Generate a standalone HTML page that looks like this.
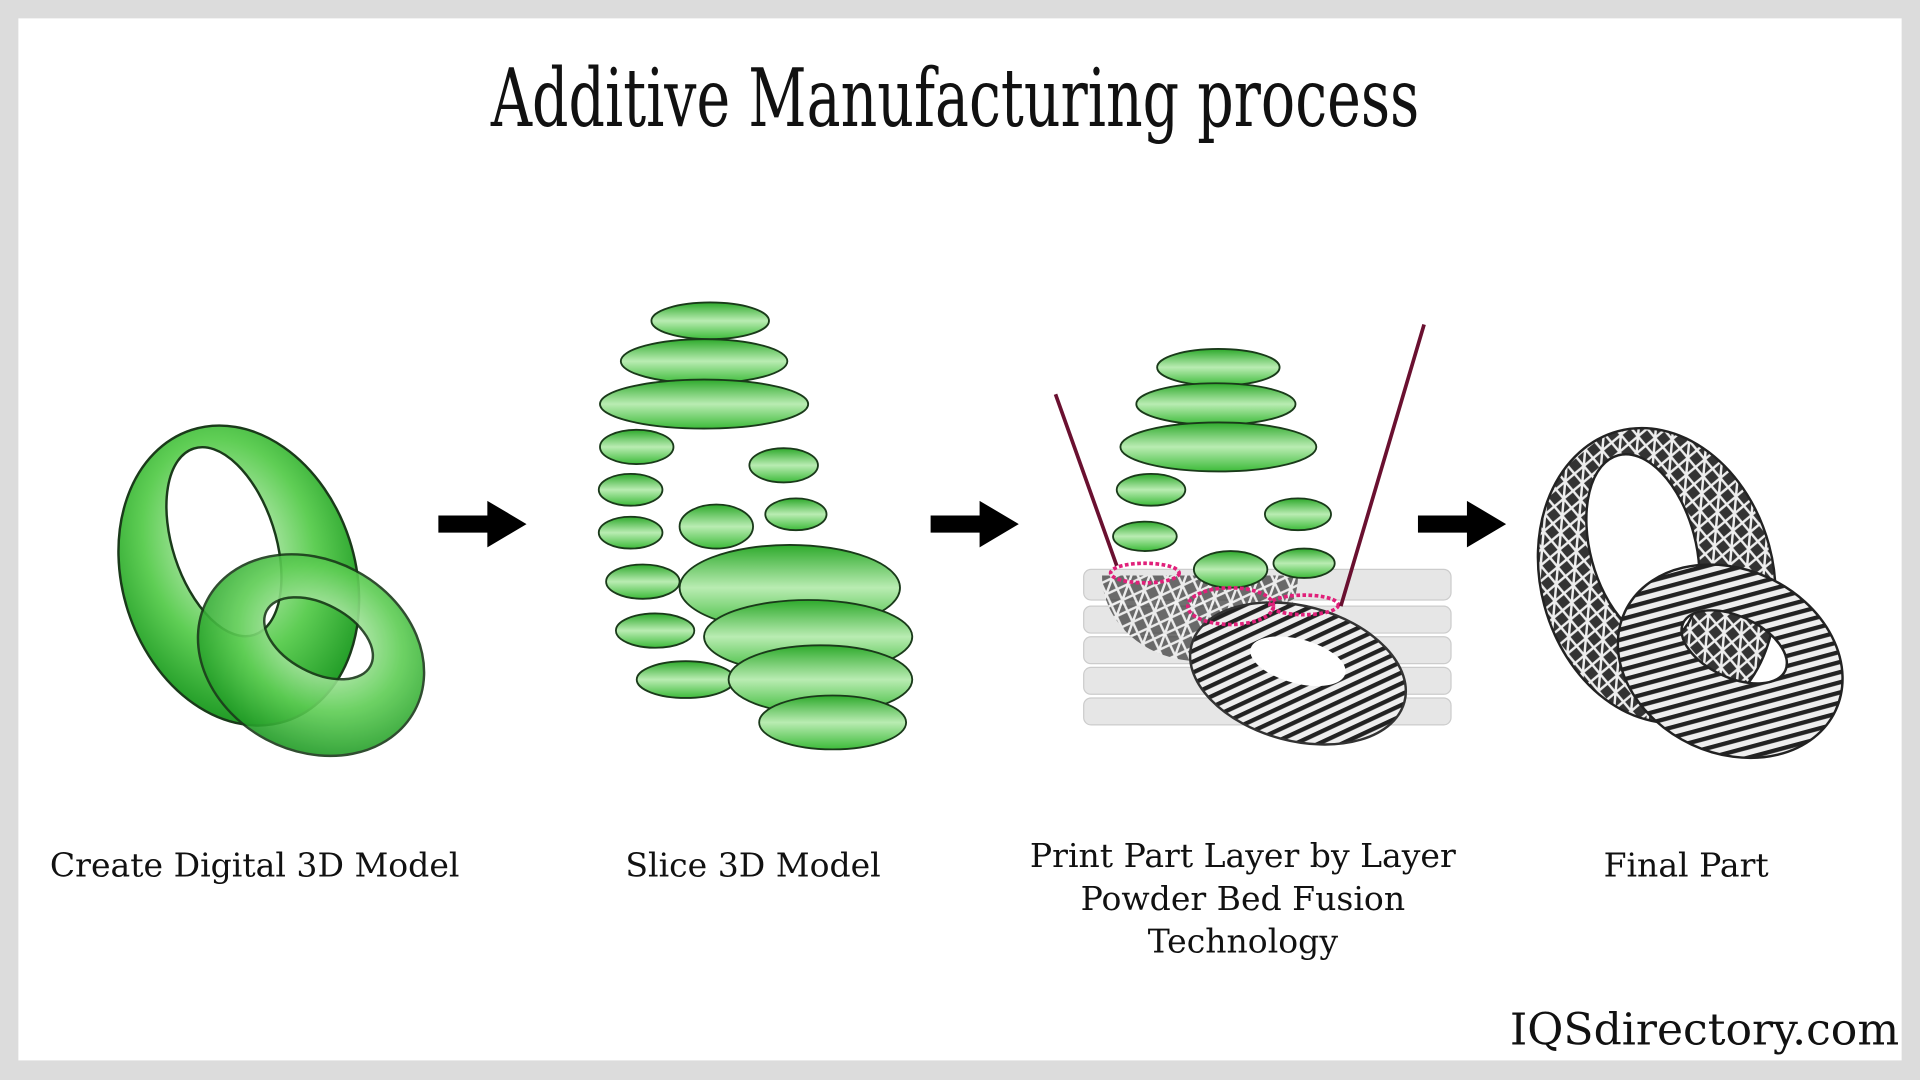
<!DOCTYPE html>
<html><head><meta charset="utf-8"><style>
html,body{margin:0;padding:0;background:#ddd;}
svg{display:block;}
</style></head><body>
<svg width="1920" height="1080" viewBox="0 0 1568 882" xmlns="http://www.w3.org/2000/svg">
<defs>
<radialGradient id="g" cx="50%" cy="40%" r="60%">
<stop offset="0" stop-color="#e8f8e4"/><stop offset="0.6" stop-color="#5fce55"/><stop offset="1" stop-color="#1f9a25"/></radialGradient>
<linearGradient id="gs" x1="0" y1="0" x2="0" y2="1">
<stop offset="0" stop-color="#2eaa2c"/><stop offset="0.5" stop-color="#b9ecb2"/><stop offset="1" stop-color="#3dbb3a"/></linearGradient>
<pattern id="str" width="8" height="8" patternUnits="userSpaceOnUse" patternTransform="rotate(50)">
<rect width="8" height="8" fill="#eee"/><rect width="3.5" height="8" fill="#222"/></pattern>
<pattern id="mesh" width="14" height="14" patternUnits="userSpaceOnUse" patternTransform="rotate(20)">
<rect width="14" height="14" fill="#333"/><path d="M0 0L14 14M14 0L0 14M7 0V14" stroke="#eee" stroke-width="2"/></pattern>
</defs>
<rect x="0" y="0" width="1568" height="882" fill="#dcdcdc"/>
<rect x="15" y="15" width="1538" height="851" fill="#fff"/>
<text x="780" y="103" text-anchor="middle" font-family="'DejaVu Serif','Liberation Serif',serif" font-size="66" transform="translate(780 0) scale(0.705 1) translate(-780 0)" fill="#111">Additive Manufacturing process</text>

<!-- Fig 1 -->
<g stroke="#1a3a1a" stroke-width="2" fill-rule="evenodd">
<path d="M100 470 a95 125 0 1 0 190 0 a95 125 0 1 0 -190 0Z M150 440 a42 80 0 1 0 84 0 a42 80 0 1 0 -84 0Z" fill="url(#g)" transform="rotate(-18 195 470)"/>
<path d="M158 535 a96 78 0 1 0 192 0 a96 78 0 1 0 -192 0Z M205 520 a48 28 0 1 0 96 0 a48 28 0 1 0 -96 0Z" fill="url(#g)" opacity="0.9" transform="rotate(28 254 535)"/>
</g>

<!-- Arrows -->
<g fill="#000">
<path d="M358 421h40v-12l32 19-32 19v-12h-40z"/>
<path d="M760 421h40v-12l32 19-32 19v-12h-40z"/>
<path d="M1158 421h40v-12l32 19-32 19v-12h-40z"/>
</g>

<!-- Fig 2 slices -->
<g stroke="#1a3a1a" stroke-width="1.5" fill="url(#gs)">
<ellipse cx="580" cy="262" rx="48" ry="15"/>
<ellipse cx="575" cy="295" rx="68" ry="18"/>
<ellipse cx="575" cy="330" rx="85" ry="20"/>
<ellipse cx="520" cy="365" rx="30" ry="14"/>
<ellipse cx="640" cy="380" rx="28" ry="14"/>
<ellipse cx="515" cy="400" rx="26" ry="13"/>
<ellipse cx="650" cy="420" rx="25" ry="13"/>
<ellipse cx="515" cy="435" rx="26" ry="13"/>
<ellipse cx="650" cy="460" rx="25" ry="13"/>
<ellipse cx="525" cy="475" rx="30" ry="14"/>
<ellipse cx="535" cy="515" rx="32" ry="14"/>
<ellipse cx="560" cy="555" rx="40" ry="15"/>
<ellipse cx="645" cy="480" rx="90" ry="35"/>
<ellipse cx="660" cy="520" rx="85" ry="30"/>
<ellipse cx="670" cy="555" rx="75" ry="28"/>
<ellipse cx="680" cy="590" rx="60" ry="22"/>
<ellipse cx="585" cy="430" rx="30" ry="18"/>
</g>

<!-- Fig 3 -->
<g fill="#e6e6e6" stroke="#ccc">
<rect x="885" y="465" width="300" height="25" rx="6"/>
<rect x="885" y="495" width="300" height="22" rx="6"/>
<rect x="885" y="520" width="300" height="22" rx="6"/>
<rect x="885" y="545" width="300" height="22" rx="6"/>
<rect x="885" y="570" width="300" height="22" rx="6"/>
</g>
<path d="M900 470 a80 70 0 1 0 160 0Z" fill="url(#mesh)" opacity="0.7"/>
<ellipse cx="1060" cy="550" rx="90" ry="55" fill="url(#str)" stroke="#333" stroke-width="2" transform="rotate(15 1060 550)"/>
<ellipse cx="1060" cy="540" rx="40" ry="18" fill="#fff" transform="rotate(15 1060 540)"/>
<g stroke="#1a3a1a" stroke-width="1.5" fill="url(#gs)">
<ellipse cx="995" cy="300" rx="50" ry="15"/>
<ellipse cx="993" cy="330" rx="65" ry="17"/>
<ellipse cx="995" cy="365" rx="80" ry="20"/>
<ellipse cx="940" cy="400" rx="28" ry="13"/>
<ellipse cx="1060" cy="420" rx="27" ry="13"/>
<ellipse cx="935" cy="438" rx="26" ry="12"/>
<ellipse cx="1065" cy="460" rx="25" ry="12"/>
<ellipse cx="1005" cy="465" rx="30" ry="15"/>
</g>
<g fill="none" stroke="#e0207a" stroke-width="3" stroke-dasharray="3 2">
<ellipse cx="935" cy="468" rx="28" ry="8"/>
<ellipse cx="1065" cy="494" rx="28" ry="8"/>
<ellipse cx="1005" cy="495" rx="35" ry="15"/>
</g>
<path d="M862 322L912 462" stroke="#6a1030" stroke-width="3"/>
<path d="M1163 265L1095 495" stroke="#6a1030" stroke-width="3"/>

<!-- Fig 4 -->
<g stroke="#222" stroke-width="2" fill-rule="evenodd">
<path d="M1258 470 a95 122 0 1 0 190 0 a95 122 0 1 0 -190 0Z M1305 445 a43 78 0 1 0 86 0 a43 78 0 1 0 -86 0Z" fill="url(#mesh)" transform="rotate(-15 1353 470)"/>
<path d="M1318 540 a95 75 0 1 0 190 0 a95 75 0 1 0 -190 0Z M1365 528 a46 25 0 1 0 92 0 a46 25 0 1 0 -92 0Z" fill="url(#str)" transform="rotate(25 1413 540)"/>
</g>

<g font-family="'DejaVu Serif','Liberation Serif',serif" font-size="27" fill="#111" text-anchor="middle">
<text x="208" y="716">Create Digital 3D Model</text>
<text x="615" y="716">Slice 3D Model</text>
<text x="1015" y="708">Print Part Layer by Layer</text>
<text x="1015" y="743">Powder Bed Fusion</text>
<text x="1015" y="778">Technology</text>
<text x="1377" y="716">Final Part</text>
<text x="1392" y="853" font-size="36">IQSdirectory.com</text>
</g>
</svg>
</body></html>
